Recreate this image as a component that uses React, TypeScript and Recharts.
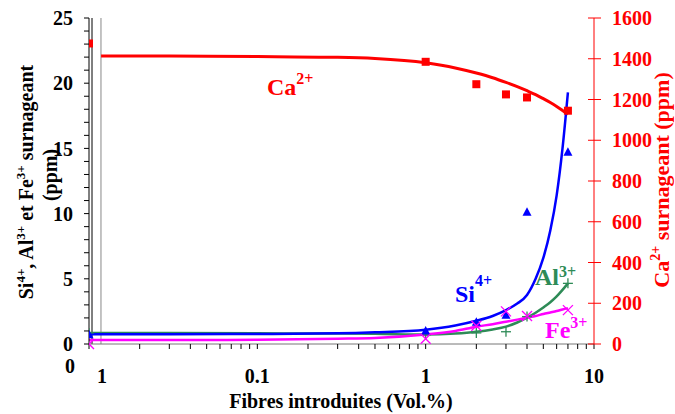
import React from 'react';
import {
  ComposedChart,
  Line,
  Scatter,
  XAxis,
  YAxis,
  ReferenceLine,
} from 'recharts';

// measured points (x = fibres introduites, Vol.%; 0 is drawn on the left edge)
const fibres = [0, 1, 2, 3, 4, 7];
const caPoints = [1475, 1385, 1275, 1225, 1210, 1145];
const siPoints = [0.7, 1.0, 1.66, 2.2, 10.1, 14.7];
const alPoints = [0.85, 0.7, 0.85, 0.94, 2.1, 4.65];
const fePoints = [0, 0.4, 1.4, 2.5, 2.15, 2.6];

// fitted curves
const fitX = [0.01, 0.03, 0.1, 0.3, 0.5, 1, 1.5, 2, 2.5, 3, 3.5, 4, 4.5, 5, 5.5, 6, 6.5, 7];
const caFitX = [0.0118, 0.03, 0.1, 0.3, 0.5, 1, 1.5, 2, 2.5, 3, 3.5, 4, 4.5, 5, 5.5, 6, 6.5, 7];
const caFit = [1413, 1413, 1411, 1407, 1401, 1380, 1355, 1330, 1307, 1284, 1263, 1243, 1224, 1204, 1185, 1166, 1146, 1127];
const siFit = [0.74, 0.75, 0.77, 0.82, 0.9, 1.1, 1.42, 1.78, 2.15, 2.6, 3.1, 3.76, 5.0, 6.6, 8.7, 11.4, 15.0, 19.3];
const alFit = [0.85, 0.84, 0.82, 0.8, 0.78, 0.72, 0.8, 0.94, 1.12, 1.33, 1.65, 2.02, 2.4, 2.8, 3.2, 3.65, 4.15, 4.65];
const feFit = [0.3, 0.3, 0.32, 0.4, 0.46, 0.73, 1.0, 1.33, 1.52, 1.71, 1.87, 2.02, 2.15, 2.3, 2.42, 2.53, 2.65, 2.75];

const xTicks = [
  0.01, 0.02, 0.03, 0.04, 0.05, 0.06, 0.07, 0.08, 0.09,
  0.1, 0.2, 0.3, 0.4, 0.5, 0.6, 0.7, 0.8, 0.9,
  1, 2, 3, 4, 5, 6, 7, 8, 9, 10,
];
const xLabels: Record<string, string> = { '0.01': '1', '0.1': '0.1', '1': '1', '10': '10' };
const leftTicks = Array.from({ length: 26 }, (_, i) => i);
const rightTicks = [0, 200, 400, 600, 800, 1000, 1200, 1400, 1600];

const X_MIN = 0.01;
const FONT = '"Liberation Serif", "Times New Roman", serif';

const pts = (xs: number[], ys: number[]) =>
  xs.map((x, i) => ({ x: x === 0 ? X_MIN : x, y: ys[i] }));

const Square = (p: any) => <rect x={p.cx - 4} y={p.cy - 4} width={8} height={8} fill="#ff0000" />;
const Triangle = (p: any) => (
  <polygon points={`${p.cx},${p.cy - 5} ${p.cx - 4.5},${p.cy + 3.5} ${p.cx + 4.5},${p.cy + 3.5}`} fill="#0000ff" />
);
const Plus = (p: any) => (
  <g stroke="#2e8b57" strokeWidth={1.3}>
    <line x1={p.cx - 5} y1={p.cy} x2={p.cx + 5} y2={p.cy} />
    <line x1={p.cx} y1={p.cy - 5} x2={p.cx} y2={p.cy + 5} />
  </g>
);
const Cross = (p: any) => (
  <g stroke="#ff00ff" strokeWidth={1.3}>
    <line x1={p.cx - 5} y1={p.cy - 5} x2={p.cx + 5} y2={p.cy + 5} />
    <line x1={p.cx - 5} y1={p.cy + 5} x2={p.cx + 5} y2={p.cy - 5} />
  </g>
);

const XTick = (props: any) => {
  const { x, y, payload } = props;
  const label = xLabels[String(payload.value)];
  if (!label) return null;
  const style = { fontFamily: FONT, fontSize: 20, fontWeight: 'bold' as const };
  if (payload.value === 0.01) {
    return (
      <g>
        <text x={x - 19} y={y + 22} textAnchor="middle" style={style} fill="#000">0</text>
        <text x={x + 13} y={y + 32} textAnchor="middle" style={style} fill="#000">{label}</text>
      </g>
    );
  }
  return (
    <text x={x} y={y + 32} textAnchor="middle" style={style} fill="#000">{label}</text>
  );
};

const RightTick = (props: any) => {
  const { x, y, payload } = props;
  const axisX = x - 7 - 11;
  return (
    <g>
      <line x1={axisX - 6} y1={y} x2={axisX} y2={y} stroke="#ff0000" />
      <text x={x} y={y} dy="0.355em" textAnchor="start"
        style={{ fontFamily: FONT, fontSize: 20, fontWeight: 'bold' }} fill="#ff0000">
        {payload.value}
      </text>
    </g>
  );
};

const App = () => {
  const bold = { fontFamily: FONT, fontWeight: 'bold' as const };
  return (
    <div style={{ position: 'absolute', left: 0, top: 0, width: 675, height: 414, background: '#fff' }}>
      <ComposedChart width={675} height={414} margin={{ top: 18, right: 0, bottom: 0, left: 0 }}>
        <XAxis
          dataKey="x"
          type="number"
          scale="log"
          domain={[0.01, 10]}
          allowDataOverflow
          ticks={xTicks}
          interval={0}
          height={70}
          tickSize={5}
          tickMargin={2}
          tick={<XTick />}
          axisLine={{ stroke: '#777' }}
          tickLine={{ stroke: '#000' }}
        />
        <YAxis
          yAxisId="left"
          orientation="left"
          type="number"
          domain={[0, 25]}
          ticks={leftTicks}
          interval={0}
          width={89}
          tickSize={5}
          tickMargin={11}
          tickFormatter={(v: number) => (v % 5 === 0 ? String(v) : '')}
          tick={{ fill: '#000', fontSize: 20, ...bold }}
          axisLine={{ stroke: '#000' }}
          tickLine={{ stroke: '#000' }}
        />
        <YAxis
          yAxisId="right"
          orientation="right"
          type="number"
          domain={[0, 1600]}
          ticks={rightTicks}
          interval={0}
          width={81}
          tickSize={7}
          tickMargin={11}
          tick={<RightTick />}
          axisLine={{ stroke: '#ff0000' }}
          tickLine={{ stroke: '#ff0000' }}
        />
        <ReferenceLine yAxisId="left" x={0.01042} stroke="#000" />
        <ReferenceLine yAxisId="left" x={0.01178} stroke="#888" />

        <Line yAxisId="right" data={pts(caFitX, caFit)} dataKey="y" type="monotone"
          stroke="#ff0000" strokeWidth={3} dot={false} isAnimationActive={false} />
        <Line yAxisId="left" data={pts(fitX, alFit)} dataKey="y" type="monotone"
          stroke="#2e8b57" strokeWidth={2.5} dot={false} isAnimationActive={false} />
        <Line yAxisId="left" data={pts(fitX, siFit)} dataKey="y" type="monotone"
          stroke="#0000ff" strokeWidth={2.5} dot={false} isAnimationActive={false} />
        <Line yAxisId="left" data={pts(fitX, feFit)} dataKey="y" type="monotone"
          stroke="#ff00ff" strokeWidth={2.5} dot={false} isAnimationActive={false} />

        <Scatter yAxisId="right" data={pts(fibres, caPoints)} dataKey="y" shape={Square} isAnimationActive={false} />
        <Scatter yAxisId="left" data={pts(fibres, alPoints)} dataKey="y" shape={Plus} isAnimationActive={false} />
        <Scatter yAxisId="left" data={pts(fibres, siPoints)} dataKey="y" shape={Triangle} isAnimationActive={false} />
        <Scatter yAxisId="left" data={pts(fibres, fePoints)} dataKey="y" shape={Cross} isAnimationActive={false} />
      </ComposedChart>

      <svg width={675} height={414} style={{ position: 'absolute', left: 0, top: 0, pointerEvents: 'none' }}>
        <g style={bold}>
          <text x={267} y={95} fill="#ff0000" fontSize={24}>
            Ca<tspan dy={-11} fontSize={16}>2+</tspan>
          </text>
          <text x={455} y={302} fill="#0000ff" fontSize={24}>
            Si<tspan dy={-16} fontSize={16}>4+</tspan>
          </text>
          <text x={535} y={285} fill="#2e8b57" fontSize={24}>
            Al<tspan dy={-8} fontSize={16}>3+</tspan>
          </text>
          <text x={545} y={338} fill="#ff00ff" fontSize={24}>
            Fe<tspan dy={-10} fontSize={16}>3+</tspan>
          </text>

          <text x={341} y={408} textAnchor="middle" fontSize={20} fill="#000">
            Fibres introduites (Vol.%)
          </text>

          <text transform="translate(33,182) rotate(-90)" textAnchor="middle" fontSize={20} fill="#000">
            Si<tspan dy={-8} fontSize={13}>4+</tspan>
            <tspan dy={8}>, Al</tspan>
            <tspan dy={-8} fontSize={13}>3+</tspan>
            <tspan dy={8}> et Fe</tspan>
            <tspan dy={-8} fontSize={13}>3+</tspan>
            <tspan dy={8}> surnageant</tspan>
          </text>
          <text transform="translate(57,175) rotate(-90)" textAnchor="middle" fontSize={20} fill="#000">
            (ppm)
          </text>

          <text transform="translate(669,180) rotate(-90)" textAnchor="middle" fontSize={22} fill="#ff0000">
            Ca<tspan dy={-9} fontSize={14}>2+</tspan>
            <tspan dy={9}> surnageant (ppm)</tspan>
          </text>
        </g>
      </svg>
    </div>
  );
};

export default App;
